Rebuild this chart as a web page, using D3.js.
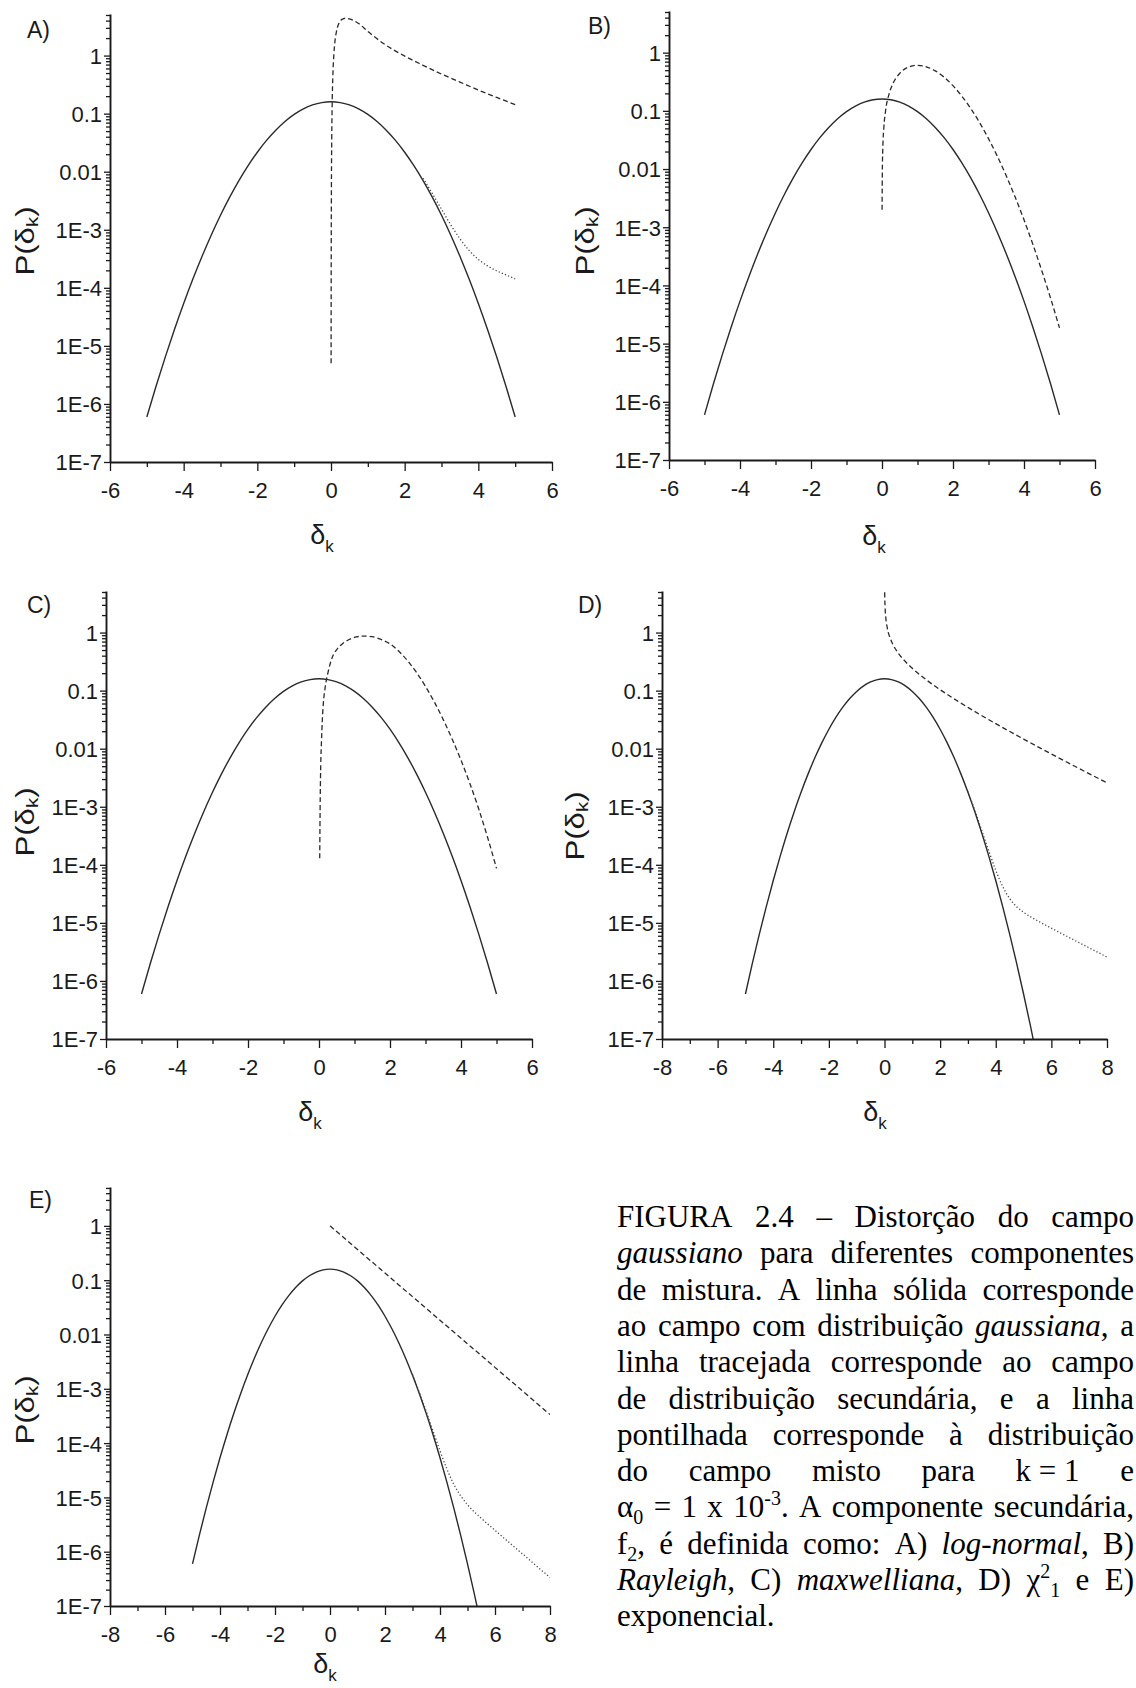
<!DOCTYPE html>
<html><head><meta charset="utf-8">
<script src="https://cdn.jsdelivr.net/npm/d3@7"></script>
<style>body{margin:0;background:#fff} svg{display:block;background:#fff}</style>
</head><body>
<svg id="fig" width="1136" height="1688"></svg>
<script>
// ---------------- data ----------------
const yTickValues = [1e-7, 1e-6, 1e-5, 1e-4, 1e-3, 0.01, 0.1, 1];
const yTickLabels = ["1E-7", "1E-6", "1E-5", "1E-4", "1E-3", "0.01", "0.1", "1"];
const xTicks6 = [-6, -4, -2, 0, 2, 4, 6];
const xTicks8 = [-8, -6, -4, -2, 0, 2, 4, 6, 8];

// gaussian field (solid)
const gaussX = [-5,-4.75,-4.5,-4.25,-4,-3.75,-3.5,-3.25,-3,-2.75,-2.5,-2.25,-2,-1.75,-1.5,-1.25,-1,-0.75,-0.5,-0.25,0,
                0.25,0.5,0.75,1,1.25,1.5,1.75,2,2.25,2.5,2.75,3,3.25,3.5,3.75,4,4.25,4.5,4.75,5];
const gaussY = [5.96e-7,2.02e-6,6.41e-6,1.91e-5,5.37e-5,1.414e-4,3.50e-4,8.14e-4,1.778e-3,3.647e-3,7.03e-3,0.01273,0.02165,0.0346,0.0519,0.0733,0.0970,0.1208,0.1412,0.1551,0.16,
                0.1551,0.1412,0.1208,0.0970,0.0733,0.0519,0.0346,0.02165,0.01273,7.03e-3,3.647e-3,1.778e-3,8.14e-4,3.50e-4,1.414e-4,5.37e-5,1.91e-5,6.41e-6,2.02e-6,5.96e-7];
const tailX = [5.25, 5.5];
const tailY = [1.66e-7, 4.3e-8];

// A) log-normal (dashed) and mixed (dotted)
const lnX = [0.0027,0.005,0.01,0.02,0.03,0.05,0.075,0.1,0.15,0.2,0.3,0.4,0.5,0.75,1,1.5,2,2.5,3,3.5,4,4.5,5];
const lnY = [5e-6,1.6e-4,0.0032,0.037,0.124,0.44,0.99,1.58,2.64,3.41,4.21,4.4,4.28,3.57,2.6,1.5,0.98,0.68,0.48,0.35,0.255,0.19,0.143];
const mixAX = [2.5,2.75,3,3.25,3.5,3.75,4,4.25,4.5,4.75,5];
const mixAY = [0.00771,0.00422,0.00226,0.00122,0.00070,0.000441,0.000309,0.000239,0.000196,0.000167,0.000143];

// B) Rayleigh (dashed)
const rayX = [0.002,0.01,0.025,0.05,0.1,0.2,0.3,0.5,0.75,1,1.25,1.5,1.75,2,2.25,2.5,2.75,3,3.25,3.5,3.75,4,4.25,4.5,4.75,5];
const rayY = [0.002,0.01,0.025,0.0499,0.0995,0.196,0.287,0.441,0.566,0.607,0.572,0.487,0.379,0.271,0.179,0.110,0.0627,0.0333,0.0165,0.00766,0.00331,0.00134,0.000508,0.000180,5.99e-5,1.86e-5];

// C) Maxwellian (dashed)
const mxX = [0.02,0.035,0.05,0.07,0.09,0.12,0.17,0.25,0.37,0.5,0.67,0.85,1.05,1.27,1.5,1.75,2,2.25,2.5,2.75,3,3.25,3.5,3.75,4,4.25,4.5,4.75,5];
const mxY = [1.3e-4,0.0015,0.0055,0.0135,0.028,0.058,0.11,0.2,0.37,0.51,0.65,0.76,0.84,0.87,0.85,0.76,0.64,0.476,0.325,0.204,0.118,0.0635,0.0317,0.0147,0.00634,0.00251,0.000912,0.000295,8.7e-5];

// D) chi-square 1 (dashed) and mixed (dotted)
const chiX = [0.0065,0.01,0.02,0.05,0.1,0.2,0.3,0.5,0.75,1,1.5,2,2.5,3,4,5,6,7,8];
const chiY = [4.93,3.97,2.79,1.74,1.20,0.807,0.627,0.439,0.317,0.242,0.154,0.1038,0.0723,0.0514,0.0270,0.01465,0.00811,0.00455,0.00258];
const mixDX = [3,3.25,3.5,3.75,4,4.25,4.5,4.75,5,5.5,6,6.5,7,7.5,8];
const mixDY = [0.00183,0.000858,0.000387,0.000173,8.07e-5,4.22e-5,2.62e-5,1.90e-5,1.52e-5,1.09e-5,8.1e-6,6.07e-6,4.55e-6,3.43e-6,2.58e-6];

// E) exponential (dashed) and mixed (dotted)
const expX = [0,1,2,3,4,5,6,7,8];
const expY = [1,0.368,0.135,0.0498,0.0183,0.00674,0.00248,0.000912,0.000335];
const mixEX = [3,3.25,3.5,3.75,4,4.25,4.5,4.75,5,5.5,6,6.5,7,7.5,8];
const mixEY = [0.00183,0.000853,0.00038,0.000165,7.2e-5,3.34e-5,1.75e-5,1.07e-5,7.34e-6,4.13e-6,2.48e-6,1.50e-6,9.1e-7,5.5e-7,3.35e-7];

// caption (segments: [text, style])
const captionLines = [
  ["FIGURA","2.4","–","Distorção","do","campo"],
  [[["gaussiano","i"]],"para","diferentes","componentes"],
  ["de","mistura.","A","linha","sólida","corresponde"],
  ["ao","campo","com","distribuição",[["gaussiana","i"],[",",""]],"a"],
  ["linha","tracejada","corresponde","ao","campo"],
  ["de","distribuição","secundária,","e","a","linha"],
  ["pontilhada","corresponde","à","distribuição"],
  ["do","campo","misto","para","k = 1","e"],
  [[["α",""],["0","sub"]],"=","1","x",[["10",""],["-3","sup"],[".",""]],"A","componente","secundária,"],
  [[["f",""],["2","sub"],[",",""]],"é","definida","como:","A)",[["log-normal","i"],[",",""]],"B)"],
  [[["Rayleigh","i"],[",",""]],"C)",[["maxwelliana","i"],[",",""]],"D)",[["χ",""],["2","sup"],["1","sub"]],"e","E)"],
  ["exponencial."]
];

// ---------------- drawing ----------------
const zip = (xs, ys) => xs.map((x, i) => ({x, y: ys[i]}));
const svg = d3.select("#fig");
const SANS = "'Liberation Sans', Arial, sans-serif";
const SERIF = "'Liberation Serif', 'Times New Roman', serif";
const INK = "#1a1a1a";

const panels = [
  {label:"A)", lx:27, ly:38, x0:110, x1:552, top:14, bottom:462, xd:[-6,6], xt:xTicks6, ylab:[25,241], xlab:[322,544],
   series:[{d:zip(gaussX,gaussY),s:"solid"},{d:zip(lnX,lnY),s:"dash"},{d:zip(mixAX,mixAY),s:"dot"}]},
  {label:"B)", lx:588, ly:34, x0:669, x1:1095, top:11, bottom:460, xd:[-6,6], xt:xTicks6, ylab:[585,241], xlab:[874,545],
   series:[{d:zip(gaussX,gaussY),s:"solid"},{d:zip(rayX,rayY),s:"dash"}]},
  {label:"C)", lx:27, ly:613, x0:106, x1:532, top:591, bottom:1039, xd:[-6,6], xt:xTicks6, ylab:[25,822], xlab:[310,1121],
   series:[{d:zip(gaussX,gaussY),s:"solid"},{d:zip(mxX,mxY),s:"dash"}]},
  {label:"D)", lx:578, ly:613, x0:662, x1:1107, top:591, bottom:1039, xd:[-8,8], xt:xTicks8, ylab:[575,826], xlab:[875,1121],
   series:[{d:zip(gaussX.concat(tailX),gaussY.concat(tailY)),s:"solid"},{d:zip(chiX,chiY),s:"dash"},{d:zip(mixDX,mixDY),s:"dot"}]},
  {label:"E)", lx:29, ly:1208, x0:110, x1:550, top:1187, bottom:1606, xd:[-8,8], xt:xTicks8, ylab:[25,1410], xlab:[325,1673],
   series:[{d:zip(gaussX.concat(tailX),gaussY.concat(tailY)),s:"solid"},{d:zip(expX,expY),s:"dash"},{d:zip(mixEX,mixEY),s:"dot"}]}
];

const yMinor = [];
for (let e = -7; e <= -1; e++) for (let k = 2; k <= 9; k++) yMinor.push(k * Math.pow(10, e));
[2,3,4,5].forEach(k => yMinor.push(k));

panels.forEach((p, pi) => {
  const g = svg.append("g");
  const x = d3.scaleLinear().domain(p.xd).range([p.x0, p.x1]);
  const y = d3.scaleLog().domain([1e-7, 5.2]).range([p.bottom, p.top]);

  const cid = "clip" + pi;
  g.append("clipPath").attr("id", cid).append("rect")
    .attr("x", p.x0).attr("y", p.top).attr("width", p.x1 - p.x0).attr("height", p.bottom - p.top);

  // curves
  const line = d3.line().x(d => x(d.x)).y(d => y(d.y)).curve(d3.curveMonotoneX);
  const cg = g.append("g").attr("clip-path", `url(#${cid})`);
  p.series.forEach(sr => {
    cg.append("path").attr("d", line(sr.d)).attr("fill", "none")
      .attr("stroke", sr.s === "dot" ? "#444" : "#2a2a2a")
      .attr("stroke-width", sr.s === "solid" ? 1.4 : 1.3)
      .attr("stroke-dasharray", sr.s === "dash" ? "5,3" : sr.s === "dot" ? "1.2,2.2" : null);
  });

  // x axis
  const xMinor = d3.range(p.xd[0] + 1, p.xd[1], 2);
  const gxm = g.append("g").attr("transform", `translate(0,${p.bottom})`)
    .call(d3.axisBottom(x).tickValues(xMinor).tickSize(5).tickSizeOuter(0).tickFormat(""));
  gxm.select(".domain").remove();
  const gx = g.append("g").attr("transform", `translate(0,${p.bottom})`)
    .call(d3.axisBottom(x).tickValues(p.xt).tickSize(9).tickSizeOuter(0).tickFormat(d => String(d)));
  gx.selectAll("text").attr("y", 36).attr("dy", null)
    .attr("font-size", 22).attr("font-family", SANS).attr("fill", INK);

  // y axis
  const gym = g.append("g").attr("transform", `translate(${p.x0},0)`)
    .call(d3.axisLeft(y).tickValues(yMinor.filter(v => v <= 5.2)).tickSize(4).tickSizeOuter(0).tickFormat(""));
  gym.select(".domain").remove();
  const gy = g.append("g").attr("transform", `translate(${p.x0},0)`)
    .call(d3.axisLeft(y).tickValues(yTickValues).tickSize(6).tickPadding(2).tickSizeOuter(0)
      .tickFormat((d, i) => yTickLabels[i]));
  gy.selectAll("text").attr("dy", "0.36em")
    .attr("font-size", 22).attr("font-family", SANS).attr("fill", INK);

  [gx, gy, gxm, gym].forEach(a => {
    a.selectAll(".tick line").attr("stroke", INK).attr("stroke-width", 1.3);
    a.select(".domain").attr("stroke", INK).attr("stroke-width", 1.9);
  });

  // panel label
  g.append("text").attr("x", p.lx).attr("y", p.ly).text(p.label)
    .attr("font-size", 23).attr("font-family", SANS).attr("fill", INK);

  // y axis title  P(δk)
  const yt = g.append("text")
    .attr("transform", `translate(${p.ylab[0]},${p.ylab[1]}) rotate(-90) scale(1.2,1)`)
    .attr("text-anchor", "middle").attr("dominant-baseline", "central")
    .attr("font-size", 26).attr("font-family", SANS).attr("fill", INK);
  yt.append("tspan").text("P(δ");
  yt.append("tspan").text("k").attr("font-size", 17).attr("dy", 7);
  yt.append("tspan").text(")").attr("dy", -7);

  // x axis title δk
  const xt = g.append("text").attr("x", p.xlab[0]).attr("y", p.xlab[1])
    .attr("text-anchor", "middle").attr("font-size", 27).attr("font-family", SANS).attr("fill", INK);
  xt.append("tspan").text("δ");
  xt.append("tspan").text("k").attr("font-size", 17).attr("dy", 8);
});

// caption, justified
const cap = svg.append("g").attr("font-family", SERIF).attr("font-size", 31).attr("fill", "#000");
const capLeft = 617, capRight = 1134, capBase = 1227, capStep = 36.3;
captionLines.forEach((words, li) => {
  const yb = capBase + li * capStep;
  const nodes = words.map(w => {
    const segs = typeof w === "string" ? [[w, ""]] : w;
    const t = cap.append("text").attr("x", 0).attr("y", yb);
    let shift = 0;
    segs.forEach(([s, st]) => {
      const target = st === "sup" ? -12 : st === "sub" ? 7 : 0;
      const ts = t.append("tspan").text(s);
      if (target - shift !== 0) ts.attr("dy", target - shift);
      shift = target;
      if (st === "sup" || st === "sub") ts.attr("font-size", 20);
      if (st === "i") ts.attr("font-style", "italic");
    });
    return t;
  });
  const widths = nodes.map(n => n.node().getComputedTextLength());
  const total = d3.sum(widths);
  const last = li === captionLines.length - 1;
  const gap = (last || nodes.length < 2) ? 7.75 : (capRight - capLeft - total) / (nodes.length - 1);
  let cx = capLeft;
  nodes.forEach((n, i) => { n.attr("x", cx); cx += widths[i] + gap; });
});
</script>
</body></html>
